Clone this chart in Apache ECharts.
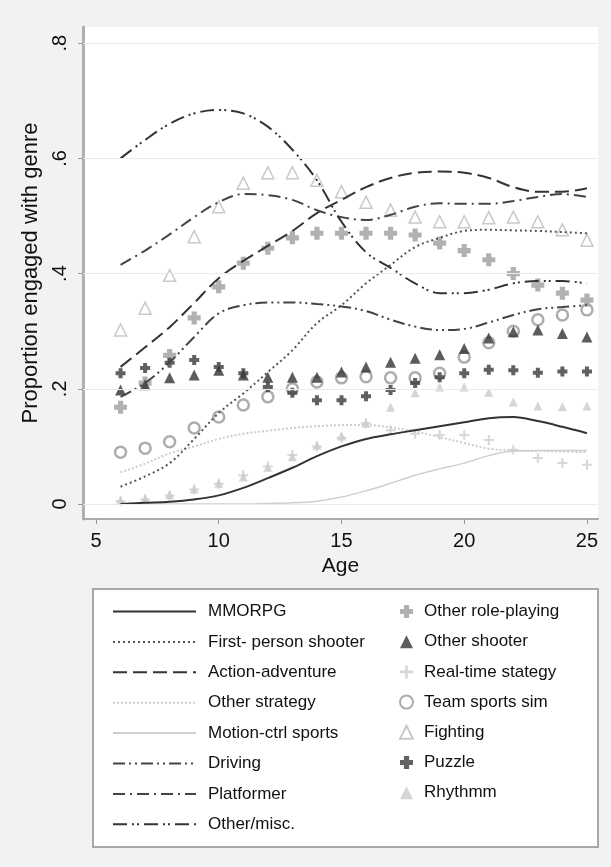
<!DOCTYPE html>
<html>
<head>
<meta charset="utf-8">
<script src="https://cdn.jsdelivr.net/npm/echarts@6.0.0/dist/echarts.min.js"></script>
<style>
  html, body { margin: 0; padding: 0; background: #f2f2f2; }
  #chart { width: 611px; height: 867px; }
</style>
</head>
<body>
<div id="chart"></div>
<script>
// ages on the x axis
var ages = [6, 7, 8, 9, 10, 11, 12, 13, 14, 15, 16, 17, 18, 19, 20, 21, 22, 23, 24, 25];
var xTicks = [5, 10, 15, 20, 25];
var yTicks = [0, 0.2, 0.4, 0.6, 0.8];

// smoothed curves
var mmorpg = [0.0, 0.002, 0.004, 0.008, 0.015, 0.028, 0.045, 0.063, 0.083, 0.1, 0.113, 0.121, 0.128, 0.135, 0.142, 0.149, 0.151, 0.144, 0.134, 0.123];
var firstPerson = [0.03, 0.048, 0.071, 0.113, 0.158, 0.192, 0.229, 0.267, 0.314, 0.345, 0.383, 0.415, 0.446, 0.462, 0.474, 0.476, 0.475, 0.474, 0.472, 0.47];
var actionAdv = [0.238, 0.272, 0.307, 0.349, 0.392, 0.422, 0.448, 0.474, 0.505, 0.528, 0.55, 0.566, 0.575, 0.577, 0.575, 0.566, 0.55, 0.542, 0.542, 0.548];
var otherStrategy = [0.055, 0.07, 0.088, 0.1, 0.113, 0.122, 0.127, 0.132, 0.135, 0.137, 0.137, 0.133, 0.126, 0.116, 0.106, 0.096, 0.093, 0.092, 0.091, 0.09];
var motionSports = [0, 0, 0, 0, 0, 0, 0.001, 0.002, 0.005, 0.012, 0.023, 0.036, 0.05, 0.061, 0.071, 0.084, 0.092, 0.093, 0.093, 0.093];
var driving = [0.186, 0.21, 0.246, 0.29, 0.331, 0.345, 0.35, 0.35, 0.347, 0.343, 0.335, 0.32, 0.308, 0.302, 0.304, 0.315, 0.328, 0.338, 0.342, 0.345];
var platformer = [0.415, 0.44, 0.468, 0.498, 0.524, 0.538, 0.536, 0.528, 0.51, 0.498, 0.493, 0.502, 0.516, 0.522, 0.521, 0.521, 0.526, 0.533, 0.538, 0.533];
var otherMisc = [0.6, 0.632, 0.66, 0.678, 0.684, 0.678, 0.655, 0.615, 0.562, 0.49, 0.437, 0.41, 0.383, 0.366, 0.366, 0.372, 0.383, 0.387, 0.387, 0.383];

// raw proportions (markers)
var otherRpg = [0.168, 0.21, 0.258, 0.323, 0.377, 0.418, 0.444, 0.462, 0.47, 0.47, 0.47, 0.47, 0.467, 0.453, 0.44, 0.424, 0.4, 0.38, 0.366, 0.354];
var otherShooter = [0.198, 0.207, 0.219, 0.224, 0.232, 0.224, 0.22, 0.22, 0.22, 0.229, 0.238, 0.246, 0.253, 0.259, 0.27, 0.288, 0.299, 0.302, 0.296, 0.29];
var realTime = [0.005, 0.008, 0.015, 0.025, 0.035, 0.05, 0.065, 0.085, 0.1, 0.115, 0.14, 0.128, 0.122, 0.12, 0.12, 0.111, 0.094, 0.08, 0.071, 0.068];
var teamSports = [0.09, 0.097, 0.108, 0.132, 0.151, 0.172, 0.186, 0.2, 0.212, 0.219, 0.221, 0.219, 0.219, 0.227, 0.255, 0.28, 0.3, 0.32, 0.328, 0.337];
var fighting = [0.302, 0.34, 0.397, 0.464, 0.516, 0.557, 0.575, 0.575, 0.562, 0.542, 0.524, 0.51, 0.498, 0.49, 0.49, 0.497, 0.498, 0.49, 0.476, 0.458];
var puzzle = [0.227, 0.236, 0.245, 0.25, 0.238, 0.227, 0.203, 0.193, 0.18, 0.18, 0.187, 0.198, 0.21, 0.22, 0.227, 0.233, 0.232, 0.228, 0.23, 0.23];
var rhythm = [0.007, 0.01, 0.016, 0.026, 0.036, 0.047, 0.064, 0.082, 0.102, 0.118, 0.14, 0.168, 0.193, 0.203, 0.203, 0.194, 0.177, 0.17, 0.169, 0.17];

var FONT = '"Liberation Sans", Arial, sans-serif';
var plusThick = 'path://M3,0 H7 V3 H10 V7 H7 V10 H3 V7 H0 V3 H3 Z';
var plusThin = 'path://M4,0 H6 V4 H10 V6 H6 V10 H4 V6 H0 V4 H4 Z';

function pairs(values) {
  return ages.map(function (a, i) { return [a, values[i]]; });
}

function curve(name, values, color, type, width) {
  return {
    name: name,
    type: 'line',
    smooth: 0.35,
    symbol: 'none',
    lineStyle: { color: color, type: type, width: width },
    itemStyle: { color: color },
    data: pairs(values)
  };
}

function dots(name, values, symbol, size, itemStyle) {
  return {
    name: name,
    type: 'scatter',
    symbol: symbol,
    symbolSize: size,
    itemStyle: itemStyle,
    data: pairs(values)
  };
}

var lineNames = ['MMORPG', 'First- person shooter', 'Action-adventure', 'Other strategy',
  'Motion-ctrl sports', 'Driving', 'Platformer', 'Other/misc.'];
var markerNames = ['Other role-playing', 'Other shooter', 'Real-time stategy', 'Team sports sim',
  'Fighting', 'Puzzle', 'Rhythmm'];

var series = [
  curve('Motion-ctrl sports', motionSports, '#cfcfcf', 'solid', 1.5),
  curve('Other strategy', otherStrategy, '#cdcdcd', [2, 2], 2),
  curve('MMORPG', mmorpg, '#333', 'solid', 2),
  curve('First- person shooter', firstPerson, '#555', [2, 3], 2),
  curve('Action-adventure', actionAdv, '#333', [14, 6], 2),
  curve('Driving', driving, '#444', [12, 4, 2, 4, 2, 4], 2),
  curve('Platformer', platformer, '#444', [12, 5, 2, 5], 2),
  curve('Other/misc.', otherMisc, '#333', [14, 5, 2, 3, 2, 5], 2),
  dots('Real-time stategy', realTime, plusThin, 10, { color: '#cdcdcd' }),
  dots('Rhythmm', rhythm, 'triangle', 9, { color: '#cbcbcb' }),
  dots('Fighting', fighting, 'triangle', 12, { color: 'rgba(255,255,255,0)', borderColor: '#bcbcbc', borderWidth: 1.5 }),
  dots('Team sports sim', teamSports, 'circle', 11, { color: 'rgba(255,255,255,0)', borderColor: '#999', borderWidth: 2.5 }),
  dots('Other role-playing', otherRpg, plusThick, 13, { color: '#9d9d9d' }),
  dots('Other shooter', otherShooter, 'triangle', 11, { color: '#333' }),
  dots('Puzzle', puzzle, plusThick, 10, { color: '#3a3a3a' })
];

// faint horizontal grid lines
series[0].markLine = {
  silent: true,
  symbol: 'none',
  label: { show: false },
  lineStyle: { color: '#ebebeb', type: 'solid', width: 1 },
  data: yTicks.map(function (v) { return { yAxis: v }; })
};

var chart = echarts.init(document.getElementById('chart'));
chart.setOption({
  backgroundColor: '#f2f2f2',
  animation: false,
  textStyle: { fontFamily: FONT },
  graphic: [{
    type: 'rect',
    left: 92,
    top: 588,
    shape: { width: 505, height: 258 },
    style: { fill: '#fff', stroke: '#a8a8a8', lineWidth: 2 }
  }],
  grid: {
    left: 83,
    right: 13,
    top: 27,
    bottom: 348,
    show: true,
    backgroundColor: '#fff',
    borderWidth: 0
  },
  legend: [{
    data: lineNames,
    orient: 'vertical',
    left: 112,
    top: 603,
    padding: 0,
    itemWidth: 83,
    itemHeight: 14,
    itemGap: 13.4,
    itemStyle: { color: 'rgba(0,0,0,0)', borderWidth: 0 },
    textStyle: { fontSize: 17, lineHeight: 17, color: '#111', fontFamily: FONT, padding: [0, 0, 0, 7] }
  }, {
    data: markerNames,
    orient: 'vertical',
    left: 399,
    top: 603,
    padding: 0,
    itemWidth: 13,
    itemHeight: 13,
    itemGap: 13.2,
    textStyle: { fontSize: 17, lineHeight: 17, color: '#111', fontFamily: FONT, padding: [0, 0, 0, 6] }
  }],
  xAxis: {
    type: 'value',
    min: 4.47,
    max: 25.45,
    name: 'Age',
    nameLocation: 'middle',
    nameGap: 33,
    nameTextStyle: { fontSize: 21, color: '#111', fontFamily: FONT },
    axisLine: { onZero: false, lineStyle: { color: '#aaa', width: 2 } },
    axisTick: { show: true, length: 5, lineStyle: { color: '#999' }, customValues: xTicks },
    axisLabel: { fontSize: 20, color: '#111', margin: 12, customValues: xTicks },
    splitLine: { show: false }
  },
  yAxis: {
    type: 'value',
    min: -0.026,
    max: 0.828,
    name: 'Proportion engaged with genre',
    nameLocation: 'middle',
    nameGap: 34,
    nameRotate: 90,
    nameTextStyle: { fontSize: 22, color: '#111', fontFamily: FONT },
    axisLine: { show: true, lineStyle: { color: '#b0b0b0', width: 3 } },
    axisTick: { show: true, length: 5, lineStyle: { color: '#999' }, customValues: yTicks },
    axisLabel: {
      fontSize: 20,
      color: '#111',
      rotate: 90,
      margin: 13,
      customValues: yTicks,
      formatter: function (v) { return v === 0 ? '0' : String(+v.toFixed(1)).replace('0.', '.'); }
    },
    splitLine: { show: false }
  },
  series: series
});
</script>
</body>
</html>
